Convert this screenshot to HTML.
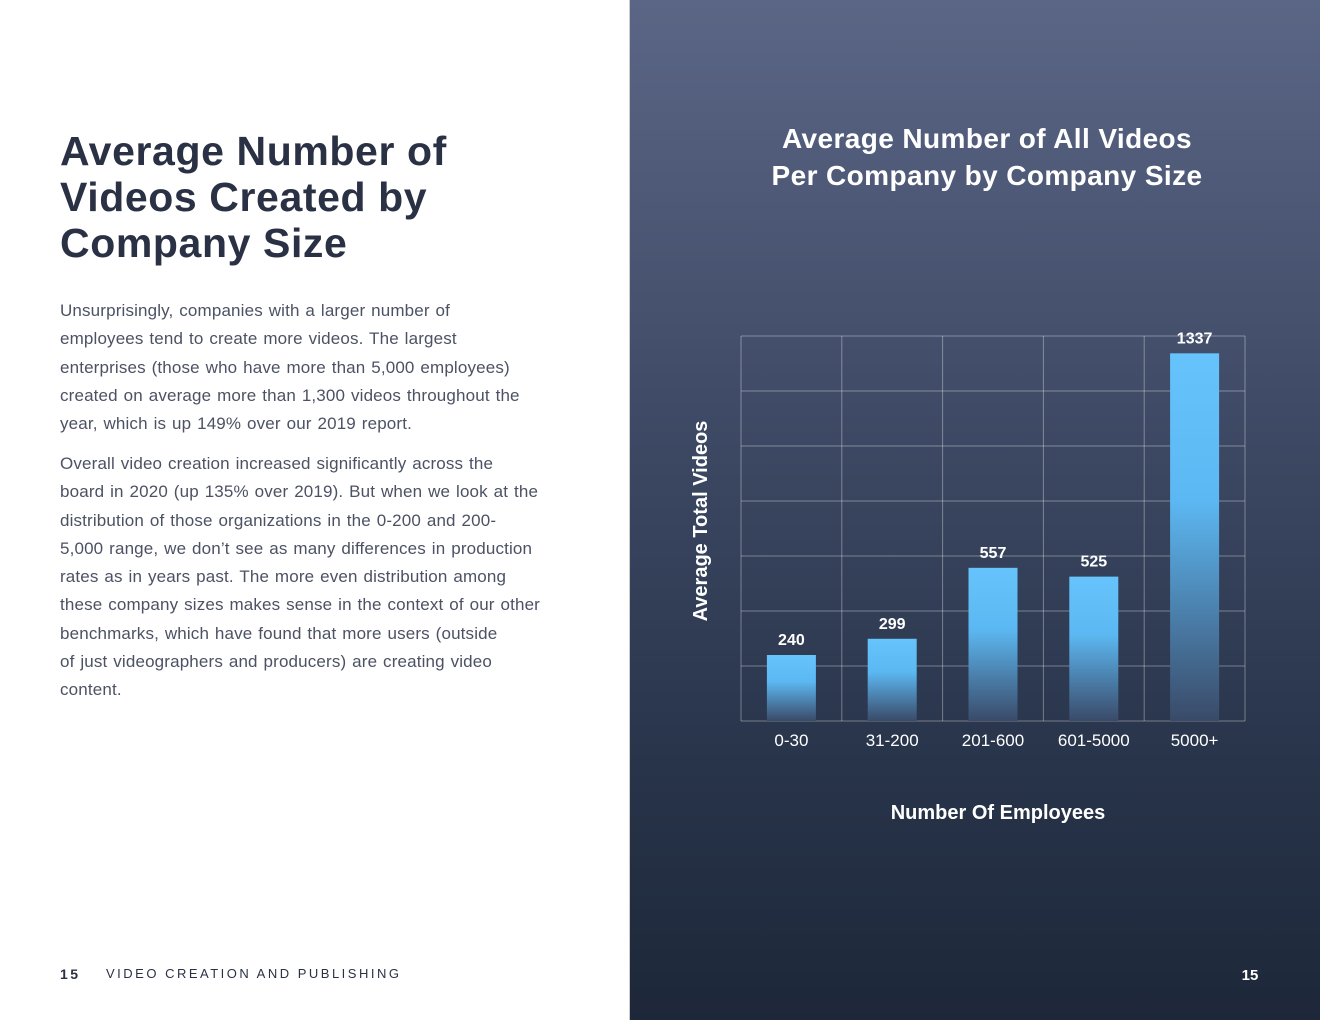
<!DOCTYPE html>
<html><head><meta charset="utf-8"><style>
body{margin:0;width:1320px;height:1020px;position:relative;overflow:hidden;font-family:"Liberation Sans",sans-serif;background:#fff}
#left{position:absolute;left:0;top:0;width:629px;height:1020px;background:#fff}
#right{position:absolute;left:629px;top:0;width:691px;height:1020px;background:linear-gradient(180deg,#5b6686 0%,#3f4b66 40%,#28344a 75%,#1d2739 100%);border-left:1px solid #ccc}
h1{position:absolute;left:60px;top:128px;margin:0;font-size:41px;line-height:46px;color:#2b3145;font-weight:bold;letter-spacing:0.6px}
.p{position:absolute;left:60px;width:520px;font-size:17px;line-height:28.3px;color:#4c5264;letter-spacing:0.15px;word-spacing:1px}
.foot{position:absolute;top:966px;font-size:14px;letter-spacing:2.5px;color:#2b3145}
</style></head><body>
<div id="left">
<h1>Average Number of<br>Videos Created by<br>Company Size</h1>
<div class="p" style="top:297px">Unsurprisingly, companies with a larger number of<br>employees tend to create more videos. The largest<br>enterprises (those who have more than 5,000 employees)<br>created on average more than 1,300 videos throughout the<br>year, which is up 149% over our 2019 report.</div>
<div class="p" style="top:450px">Overall video creation increased significantly across the<br>board in 2020 (up 135% over 2019). But when we look at the<br>distribution of those organizations in the 0-200 and 200-<br>5,000 range, we don’t see as many differences in production<br>rates as in years past. The more even distribution among<br>these company sizes makes sense in the context of our other<br>benchmarks, which have found that more users (outside<br>of just videographers and producers) are creating video<br>content.</div>
<div class="foot" style="left:60px;font-weight:bold">15</div>
<div class="foot" style="left:106px;font-size:13px">VIDEO CREATION AND PUBLISHING</div>
</div>
<div id="right"></div>
<svg id="chart" width="1320" height="1020" style="position:absolute;left:0;top:0">
<defs><linearGradient id="bg" x1="0" y1="0" x2="0" y2="1"><stop offset="0" stop-color="#66c3fb"/><stop offset="0.4" stop-color="#5cb8f2"/><stop offset="1" stop-color="#3a4a68"/></linearGradient></defs>
<text x="987" y="148" text-anchor="middle" font-size="28" font-weight="bold" fill="#fff" letter-spacing="0.4">Average Number of All Videos</text>
<text x="987" y="185" text-anchor="middle" font-size="28" font-weight="bold" fill="#fff" letter-spacing="0.4">Per Company by Company Size</text>
<text transform="translate(707,521) rotate(-90)" text-anchor="middle" font-size="20" font-weight="bold" fill="#fff">Average Total Videos</text>
<text x="998" y="819" text-anchor="middle" font-size="20" font-weight="bold" fill="#fff">Number Of Employees</text>
<text x="1250" y="980" text-anchor="middle" font-size="15" font-weight="bold" fill="#fff">15</text>
<g id="grid"></g><g id="bars"></g>
</svg>
<script>
const categories=["0-30","31-200","201-600","601-5000","5000+"];
const values=[240,299,557,525,1337];
const yTicks=[0,200,400,600,800,1000,1200,1400];
const X0=741,X1=1245,Y0=721,Y1=336,yMax=1400;
const NS="http://www.w3.org/2000/svg";
const bw=(X1-X0)/categories.length;
const y=v=>Y0-(v/yMax)*(Y0-Y1);
const x=i=>X0+bw*i;
const grid=document.getElementById('grid'),bars=document.getElementById('bars');
function mk(t,a,p){const e=document.createElementNS(NS,t);for(const k in a)e.setAttribute(k,a[k]);p.appendChild(e);return e;}
yTicks.forEach(t=>{const l=mk('line',{x1:X0,x2:X1,y1:y(t),y2:y(t),stroke:'rgba(255,255,255,0.35)','stroke-width':1},grid);

});
for(let i=0;i<=categories.length;i++){const l=mk('line',{x1:x(i),x2:x(i),y1:Y1,y2:Y0,stroke:'rgba(255,255,255,0.35)','stroke-width':1},grid);

}
categories.forEach((c,i)=>{const cx=x(i)+bw/2,w=49;
const r=mk('rect',{x:cx-w/2,y:y(values[i]),width:w,height:Y0-y(values[i]),fill:'url(#bg)'},bars);


const v=mk('text',{x:cx,y:y(values[i])-10,'text-anchor':'middle','font-size':16,'font-weight':'bold',fill:'#fff'},bars);v.textContent=values[i];


const t=mk('text',{x:cx,y:746,'text-anchor':'middle','font-size':17,fill:'#fff'},bars);t.textContent=c;

});
</script>
</body></html>
